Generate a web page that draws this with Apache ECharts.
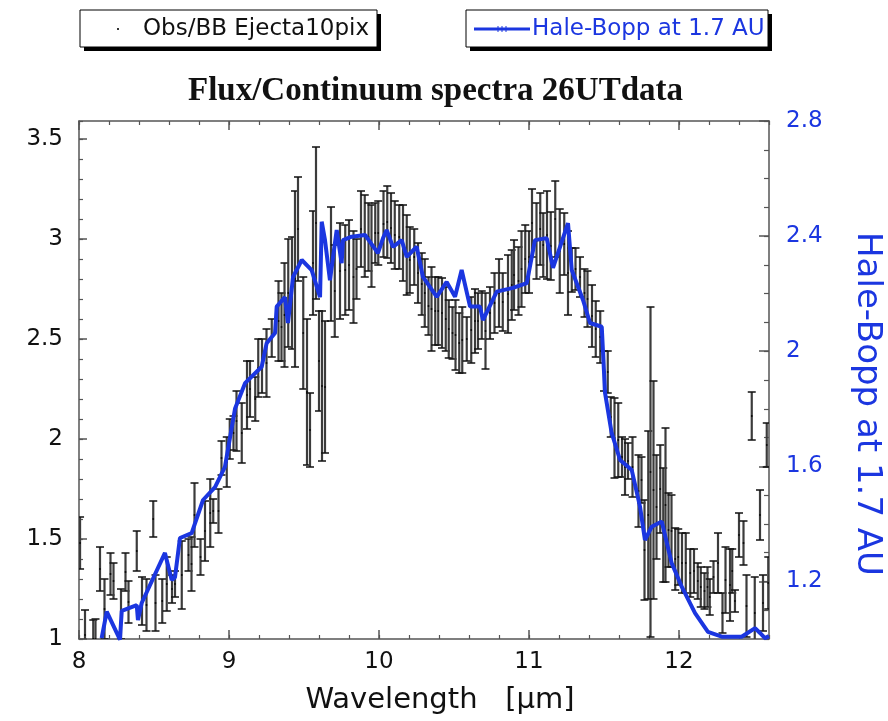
<!DOCTYPE html>
<html>
<head>
<meta charset="utf-8">
<script src="https://cdn.jsdelivr.net/npm/echarts@6/dist/echarts.min.js"></script>
<style>
html,body{margin:0;padding:0;background:#fff;}
#chart{width:888px;height:721px;}
</style>
</head>
<body>
<div id="chart"></div>
<script>
// Observed Flux/Continuum (left axis) with symmetric error bars
const obsWave = [8.007,8.04,8.095,8.11,8.14,8.17,8.21,8.23,8.28,8.31,8.33,8.385,8.42,8.45,8.495,8.51,8.555,8.585,8.62,8.64,
  8.685,8.73,8.75,8.77,8.81,8.84,8.875,8.895,8.93,8.95,8.985,9.005,9.03,9.05,9.085,9.12,9.14,9.175,9.195,9.22,
  9.25,9.285,9.33,9.35,9.37,9.395,9.42,9.44,9.46,9.495,9.52,9.54,9.56,9.58,9.60,9.62,9.64,9.68,9.705,9.74,
  9.775,9.80,9.83,9.85,9.88,9.905,9.93,9.95,9.975,9.995,10.03,10.055,10.08,10.105,10.135,10.16,10.185,10.205,10.235,10.26,
  10.285,10.305,10.33,10.35,10.375,10.395,10.42,10.445,10.465,10.49,10.51,10.535,10.555,10.585,10.615,10.64,10.66,10.685,10.71,10.74,
  10.77,10.80,10.825,10.86,10.885,10.90,10.93,10.95,10.975,11.00,11.02,11.05,11.075,11.095,11.12,11.145,11.175,11.205,11.235,11.26,
  11.285,11.31,11.34,11.37,11.39,11.42,11.445,11.475,11.50,11.525,11.545,11.57,11.595,11.62,11.64,11.66,11.69,11.73,11.75,11.77,
  11.795,11.81,11.83,11.85,11.875,11.895,11.91,11.93,11.95,11.975,11.995,12.02,12.045,12.075,12.10,12.125,12.145,12.17,12.19,12.205,
  12.23,12.26,12.29,12.31,12.34,12.355,12.373,12.40,12.43,12.45,12.485,12.505,12.54,12.56,12.585,12.595];
const obsFlux = [1.48,1.02,1.00,1.00,1.35,1.15,1.325,1.29,1.125,1.335,1.185,1.44,1.19,1.17,1.60,1.18,1.19,1.275,1.25,1.275,
  1.32,1.42,1.375,1.62,1.41,1.54,1.63,1.64,1.64,1.905,1.885,2.00,2.03,2.09,2.03,2.22,2.25,2.20,2.355,2.365,
  2.38,2.505,2.59,2.56,2.62,2.73,2.73,2.80,3.05,2.53,2.235,2.045,2.88,3.08,2.39,2.265,2.26,2.875,2.74,2.84,
  2.845,2.87,2.81,2.85,3.05,3.015,3.01,2.965,3.03,3.03,3.075,3.085,3.055,3.02,3.01,2.98,2.92,2.895,2.91,2.83,
  2.775,2.73,2.665,2.65,2.64,2.64,2.63,2.60,2.55,2.53,2.52,2.48,2.495,2.50,2.545,2.59,2.59,2.62,2.54,2.63,
  2.68,2.73,2.685,2.725,2.77,2.82,2.79,2.85,2.90,2.885,3.08,2.99,3.05,2.97,3.02,2.965,3.10,2.94,2.975,2.83,
  2.845,2.85,2.81,2.73,2.70,2.615,2.55,2.51,2.34,2.335,2.11,2.005,1.995,1.91,1.86,1.89,1.86,1.74,1.795,1.445,
  1.62,1.835,1.745,1.66,1.75,1.57,1.67,1.545,1.54,1.40,1.41,1.38,1.38,1.33,1.34,1.29,1.26,1.24,1.26,1.21,
  1.31,1.38,1.13,1.295,1.27,1.34,1.19,1.52,1.48,1.165,2.115,1.13,1.62,1.18,1.97,1.28];
const obsErr = [0.13,0.125,0.095,0.10,0.11,0.15,0.105,0.09,0.125,0.095,0.105,0.10,0.12,0.13,0.09,0.14,0.11,0.135,0.07,0.065,
  0.17,0.08,0.135,0.16,0.09,0.15,0.17,0.06,0.11,0.085,0.125,0.10,0.085,0.15,0.15,0.17,0.14,0.11,0.145,0.135,
  0.17,0.095,0.20,0.17,0.26,0.27,0.28,0.44,0.26,0.28,0.365,0.185,0.26,0.38,0.25,0.375,0.33,0.285,0.23,0.24,
  0.225,0.225,0.23,0.15,0.19,0.205,0.17,0.205,0.15,0.16,0.165,0.18,0.175,0.17,0.16,0.19,0.20,0.165,0.14,0.15,
  0.155,0.17,0.145,0.21,0.17,0.17,0.175,0.16,0.145,0.13,0.175,0.15,0.165,0.11,0.165,0.16,0.14,0.12,0.19,0.13,
  0.15,0.17,0.145,0.195,0.175,0.175,0.17,0.19,0.17,0.155,0.17,0.19,0.18,0.16,0.22,0.17,0.19,0.21,0.155,0.21,
  0.11,0.105,0.10,0.12,0.14,0.155,0.14,0.13,0.10,0.105,0.10,0.20,0.185,0.10,0.14,0.09,0.15,0.18,0.115,0.25,
  0.42,0.825,0.545,0.26,0.22,0.285,0.385,0.185,0.18,0.155,0.14,0.15,0.15,0.12,0.11,0.09,0.10,0.09,0.10,0.09,
  0.08,0.15,0.10,0.165,0.18,0.11,0.055,0.11,0.11,0.155,0.12,0.18,0.125,0.14,0.11,0.13];

// Hale-Bopp at 1.7 AU (right axis)
const hbWave = [8.151,8.185,8.273,8.285,8.385,8.393,8.418,8.573,8.618,8.64,8.673,8.751,8.827,8.907,8.973,9.04,9.107,9.218,9.251,9.307,
  9.318,9.373,9.393,9.427,9.485,9.551,9.607,9.618,9.64,9.673,9.718,9.751,9.76,9.818,9.907,9.993,10.027,10.051,10.093,10.151,
  10.185,10.251,10.293,10.385,10.451,10.507,10.551,10.607,10.673,10.693,10.785,10.893,10.985,11.04,11.118,11.16,11.26,11.285,11.36,11.407,
  11.485,11.507,11.551,11.607,11.685,11.74,11.773,11.818,11.885,11.951,12.018,12.107,12.193,12.285,12.418,12.507,12.54,12.573,12.6];
const hbFlux = [1.003,1.095,0.998,1.098,1.118,1.066,1.125,1.299,1.205,1.215,1.351,1.368,1.483,1.528,1.598,1.80,1.889,1.946,2.028,2.063,
  2.155,2.188,2.098,2.258,2.317,2.282,2.188,2.450,2.386,2.247,2.421,2.306,2.386,2.398,2.404,2.341,2.393,2.421,2.362,2.386,
  2.328,2.363,2.258,2.189,2.241,2.189,2.282,2.155,2.155,2.108,2.207,2.220,2.237,2.386,2.393,2.29,2.445,2.282,2.178,2.098,
  2.085,1.855,1.716,1.622,1.587,1.460,1.344,1.39,1.408,1.264,1.182,1.090,1.025,1.008,1.008,1.038,1.021,1.003,1.01];

// Tick values
const xMajorTicks = [8, 9, 10, 11, 12];
const yLeftTicks = [1, 1.5, 2, 2.5, 3, 3.5];
const yRightTicks = [1.2, 1.6, 2, 2.4, 2.8];

const BLUE = '#1b36e0';
const FRAME = '#555';
const SANS = 'DejaVu Sans';

const obsData = obsWave.map((w, i) => [w, obsFlux[i], obsErr[i]]);
const hbData = hbWave.map((w, i) => [w, hbFlux[i]]);

const chart = echarts.init(document.getElementById('chart'), null, {renderer: 'canvas'});

function minorX(pos) {
  return {type: 'value', position: pos, min: 8, max: 12.6, interval: 0.2,
    axisLine: {show: false, onZero: false}, axisLabel: {show: false}, splitLine: {show: false},
    axisTick: {show: true, inside: true, length: 4, lineStyle: {color: FRAME, width: 1.2}}};
}

const option = {
  backgroundColor: '#fff',
  animation: false,
  title: {
    text: 'Flux/Continuum spectra 26UTdata',
    left: 183, top: 70,
    textStyle: {fontFamily: 'Liberation Serif', fontWeight: 'bold', fontSize: 33, color: '#111'}
  },
  grid: {left: 79, right: 119, top: 121, bottom: 82, containLabel: false, outerBoundsMode: 'none'},
  xAxis: [
    {type: 'value', position: 'bottom', min: 8, max: 12.6,
      axisLine: {show: true, onZero: false, lineStyle: {color: FRAME, width: 1.5}},
      axisTick: {show: true, inside: true, length: 9, customValues: xMajorTicks, lineStyle: {color: FRAME, width: 1.5}},
      axisLabel: {customValues: xMajorTicks, fontFamily: SANS, fontSize: 23, color: '#111', margin: 12},
      splitLine: {show: false},
      name: 'Wavelength   [μm]', nameLocation: 'middle', nameGap: 47,
      nameTextStyle: {fontFamily: SANS, fontSize: 29, color: '#111', padding: [0, 0, 0, 32]}
    },
    minorX('bottom'),
    {type: 'value', position: 'top', min: 8, max: 12.6,
      axisLine: {show: true, onZero: false, lineStyle: {color: FRAME, width: 1.5}},
      axisTick: {show: true, inside: true, length: 9, customValues: xMajorTicks, lineStyle: {color: FRAME, width: 1.5}},
      axisLabel: {show: false}, splitLine: {show: false}},
    minorX('top')
  ],
  yAxis: [
    {type: 'value', position: 'left', min: 1, max: 3.59,
      axisLine: {show: true, onZero: false, lineStyle: {color: FRAME, width: 1.5}},
      axisTick: {show: true, inside: true, length: 8, customValues: yLeftTicks, lineStyle: {color: FRAME, width: 1.5}},
      axisLabel: {customValues: yLeftTicks, fontFamily: SANS, fontSize: 23, color: '#111', margin: 16},
      splitLine: {show: false}},
    {type: 'value', position: 'right', min: 1, max: 2.8,
      axisLine: {show: true, onZero: false, lineStyle: {color: FRAME, width: 1.5}},
      axisTick: {show: true, inside: true, length: 10, customValues: yRightTicks, lineStyle: {color: FRAME, width: 1.5}},
      axisLabel: {customValues: yRightTicks, fontFamily: SANS, fontSize: 23, color: BLUE, margin: 17},
      splitLine: {show: false},
      name: 'Hale-Bopp at 1.7 AU', nameLocation: 'middle', nameRotate: -90, nameGap: 81,
      nameTextStyle: {fontFamily: SANS, fontSize: 34, color: BLUE, padding: [0, 0, 0, 48]}
    },
    {type: 'value', position: 'left', min: 1, max: 3.59, interval: 0.1,
      axisLine: {show: false, onZero: false}, axisLabel: {show: false}, splitLine: {show: false},
      axisTick: {show: true, inside: true, length: 4, lineStyle: {color: FRAME, width: 1.2}}},
    {type: 'value', position: 'right', min: 1, max: 2.8, interval: 0.1,
      axisLine: {show: false, onZero: false}, axisLabel: {show: false}, splitLine: {show: false},
      axisTick: {show: true, inside: true, length: 5, lineStyle: {color: FRAME, width: 1.2}}}
  ],
  series: [
    {
      name: 'Obs/BB Ejecta10pix', type: 'custom', xAxisIndex: 0, yAxisIndex: 0, clip: true,
      data: obsData, encode: {x: 0, y: 1},
      renderItem: function (params, api) {
        const x = api.value(0), c = api.value(1), e = api.value(2);
        const t = api.coord([x, c + e]);
        const b = api.coord([x, c - e]);
        const m = api.coord([x, c]);
        const hw = 4;
        const vs = {stroke: '#3c3c3c', lineWidth: 2.2};
        const cs = {stroke: '#111', lineWidth: 1.5};
        return {type: 'group', children: [
          {type: 'line', shape: {x1: t[0], y1: t[1], x2: b[0], y2: b[1]}, style: vs},
          {type: 'line', shape: {x1: t[0] - hw, y1: t[1], x2: t[0] + hw, y2: t[1]}, style: cs},
          {type: 'line', shape: {x1: b[0] - hw, y1: b[1], x2: b[0] + hw, y2: b[1]}, style: cs},
          {type: 'rect', shape: {x: m[0] - 0.8, y: m[1] - 0.8, width: 1.6, height: 1.6}, style: {fill: '#000'}}
        ]};
      },
      z: 2
    },
    {
      name: 'Hale-Bopp at 1.7 AU', type: 'line', xAxisIndex: 0, yAxisIndex: 1,
      data: hbData, showSymbol: false, symbol: 'none', clip: true,
      lineStyle: {color: BLUE, width: 4}, z: 3
    }
  ],
  graphic: [
    {type: 'rect', shape: {x: 84, y: 14, width: 297, height: 37}, style: {fill: '#000'}, z: 10},
    {type: 'rect', shape: {x: 80, y: 10, width: 297, height: 37}, style: {fill: '#fff', stroke: '#000', lineWidth: 1}, z: 11},
    {type: 'rect', shape: {x: 117, y: 28, width: 2, height: 2}, style: {fill: '#333'}, z: 12},
    {type: 'text', x: 143, y: 29, style: {text: 'Obs/BB Ejecta10pix', font: '23px "DejaVu Sans"', fill: '#111', verticalAlign: 'middle'}, z: 12},

    {type: 'rect', shape: {x: 470, y: 14, width: 302, height: 37}, style: {fill: '#000'}, z: 10},
    {type: 'rect', shape: {x: 466, y: 10, width: 302, height: 37}, style: {fill: '#fff', stroke: '#000', lineWidth: 1}, z: 11},
    {type: 'line', shape: {x1: 474, y1: 29, x2: 530, y2: 29}, style: {stroke: BLUE, lineWidth: 3}, z: 12},
    {type: 'line', shape: {x1: 498, y1: 26, x2: 498, y2: 32}, style: {stroke: BLUE, lineWidth: 1}, z: 12},
    {type: 'line', shape: {x1: 502, y1: 26, x2: 502, y2: 32}, style: {stroke: BLUE, lineWidth: 1}, z: 12},
    {type: 'line', shape: {x1: 506, y1: 26, x2: 506, y2: 32}, style: {stroke: BLUE, lineWidth: 1}, z: 12},
    {type: 'text', x: 532, y: 29, style: {text: 'Hale-Bopp at 1.7 AU', font: '23px "DejaVu Sans"', fill: BLUE, verticalAlign: 'middle'}, z: 12}
  ]
};
chart.setOption(option);
</script>
</body>
</html>
